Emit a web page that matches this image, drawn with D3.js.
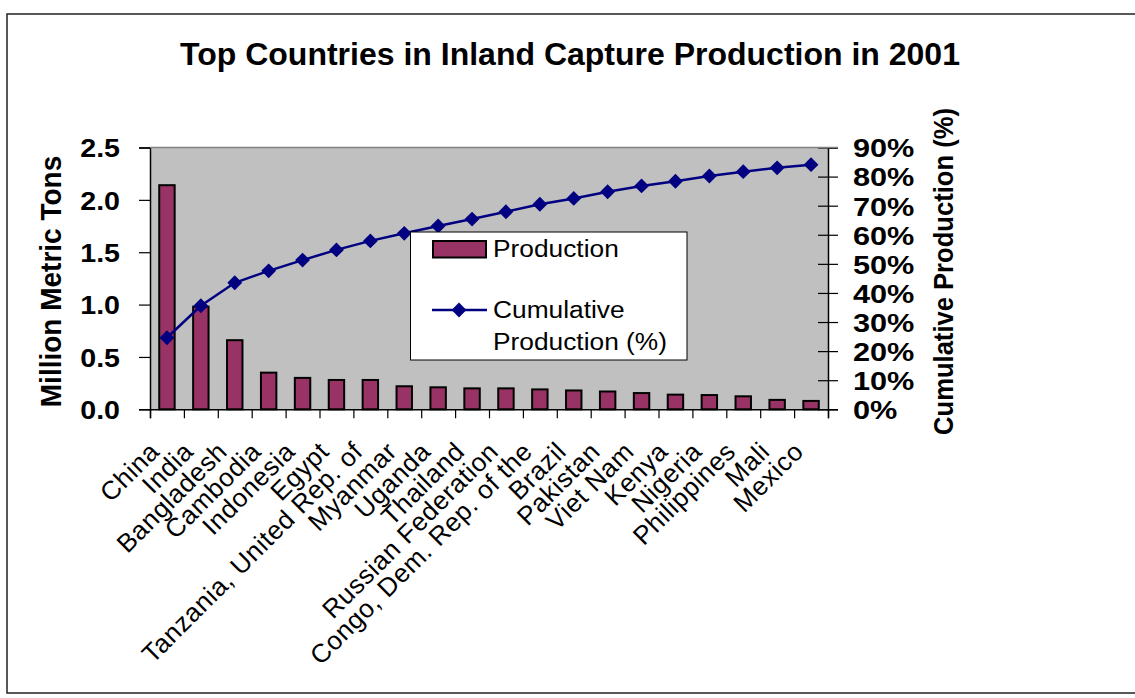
<!DOCTYPE html>
<html>
<head>
<meta charset="utf-8">
<script src="https://cdn.jsdelivr.net/npm/d3@7"></script>
<style>
  html, body { margin: 0; padding: 0; background: #fff; }
  svg { display: block; }
  text { font-family: "Liberation Sans", Arial, Helvetica, sans-serif; fill: #000; }
</style>
</head>
<body>
<svg id="chart" width="1135" height="698"></svg>
<script>
// ---- data ----
const categories = ["China","India","Bangladesh","Cambodia","Indonesia","Egypt",
  "Tanzania, United Rep. of","Myanmar","Uganda","Thailand","Russian Federation",
  "Congo, Dem. Rep. of the","Brazil","Pakistan","Viet Nam","Kenya","Nigeria",
  "Philippines","Mali","Mexico"];
const production = [2.14,0.98,0.66,0.35,0.30,0.28,0.28,0.22,0.21,0.20,0.20,0.19,
  0.18,0.17,0.155,0.14,0.136,0.124,0.09,0.08];
const cumulative = [24.6,35.6,43.5,47.6,51.3,54.8,57.9,60.5,63.0,65.4,67.9,70.5,
  72.5,74.8,76.8,78.4,80.2,81.7,83.0,84.1];
const leftTicks = [0,0.5,1.0,1.5,2.0,2.5];
const rightTicks = [0,0.1,0.2,0.3,0.4,0.5,0.6,0.7,0.8,0.9];
const titleText = "Top Countries in Inland Capture Production in 2001";
const leftTitle = "Million Metric Tons";
const rightTitle = "Cumulative Production (%)";
const legendLabels = ["Production", ["Cumulative", "Production (%)"]];

// ---- layout ----
const svg = d3.select("#chart");
const plot = {left: 150, right: 828, top: 147.5, bottom: 409.3};
const barColor = "#993366", lineColor = "#000080";

const x = d3.scaleBand().domain(categories).range([plot.left, plot.right]).padding(0);
const xIdx = d3.scaleLinear().domain([0, categories.length]).range([plot.left, plot.right]);
const yL = d3.scaleLinear().domain([0, 2.5]).range([plot.bottom, plot.top]);
const yR = d3.scaleLinear().domain([0, 0.9]).range([plot.bottom, plot.top]);

// outer border
svg.append("rect").attr("x", 7).attr("y", 14).attr("width", 1140).attr("height", 679)
  .attr("fill", "#fff").attr("stroke", "#222").attr("stroke-width", 1.5);

// title
svg.append("text").attr("x", 570).attr("y", 65).attr("text-anchor", "middle")
  .attr("font-size", 32).attr("font-weight", "bold").text(titleText);

// plot background
svg.append("rect").attr("x", plot.left).attr("y", plot.top)
  .attr("width", plot.right - plot.left).attr("height", plot.bottom - plot.top)
  .attr("fill", "#c0c0c0");

// bars
const barW = x.bandwidth() * 0.455;
svg.append("g").selectAll("rect").data(production).join("rect")
  .attr("x", (d, i) => x(categories[i]) + x.bandwidth() / 2 - barW / 2)
  .attr("y", d => yL(d))
  .attr("width", barW)
  .attr("height", d => plot.bottom - yL(d))
  .attr("fill", barColor).attr("stroke", "#000").attr("stroke-width", 2);

// axes
const sxL = 1.1;
const gL = svg.append("g").attr("transform", `translate(${plot.left},0)`)
  .call(d3.axisLeft(yL).tickValues(leftTicks).tickFormat(d3.format(".1f")).tickSize(11).tickPadding(0));
gL.select(".domain").attr("stroke", "#000").attr("stroke-width", 1.5);
gL.selectAll(".tick line").attr("stroke", "#000").attr("stroke-width", 1.2);
gL.selectAll(".tick text").attr("font-size", 26).attr("font-weight", "bold")
  .attr("font-family", "Liberation Sans, Arial, sans-serif")
  .attr("x", -30 / sxL).attr("dy", "0.36em").attr("transform", `scale(${sxL},1)`);

const sxR = 1.18;
const gR = svg.append("g").attr("transform", `translate(${plot.right},0)`)
  .call(d3.axisRight(yR).tickValues(rightTicks).tickFormat(d3.format(".0%")).tickSize(10).tickPadding(0));
gR.select(".domain").attr("stroke", "#000").attr("stroke-width", 1.5);
gR.selectAll(".tick line").attr("x1", -10).attr("stroke", "#000").attr("stroke-width", 1.2);
gR.selectAll(".tick text").attr("font-size", 26).attr("font-weight", "bold")
  .attr("font-family", "Liberation Sans, Arial, sans-serif")
  .attr("x", 25 / sxR).attr("dy", "0.36em").attr("transform", `scale(${sxR},1)`);

const gB = svg.append("g").attr("transform", `translate(0,${plot.bottom})`)
  .call(d3.axisBottom(xIdx).tickValues(d3.range(categories.length + 1)).tickFormat("").tickSize(9));
gB.select(".domain").attr("stroke", "#000").attr("stroke-width", 1.5);
gB.selectAll(".tick line").attr("stroke", "#000").attr("stroke-width", 1.2);

// top plot border (grey)
svg.append("line").attr("x1", plot.left).attr("x2", plot.right + 10)
  .attr("y1", plot.top).attr("y2", plot.top).attr("stroke", "#808080").attr("stroke-width", 1.5);

// cumulative line
const cx = (d, i) => x(categories[i]) + x.bandwidth() / 2;
const line = d3.line().x((d, i) => cx(d, i)).y(d => yR(d / 100));
svg.append("path").datum(cumulative).attr("d", line)
  .attr("fill", "none").attr("stroke", lineColor).attr("stroke-width", 2.5);
const diamond = d3.symbol().type(d3.symbolSquare).size(110);
svg.append("g").selectAll("path").data(cumulative).join("path")
  .attr("d", diamond)
  .attr("transform", (d, i) => `translate(${cx(d, i)},${yR(d / 100)}) rotate(45)`)
  .attr("fill", lineColor);

// category labels
svg.append("g").selectAll("text").data(categories).join("text")
  .attr("transform", d => `translate(${x(d) + x.bandwidth() / 2 - 6},453) rotate(-45)`)
  .attr("text-anchor", "end").attr("font-size", 26).attr("letter-spacing", 0.6).text(d => d);

// axis titles
svg.append("text").attr("transform", "translate(61,281.5) scale(1.06,1) rotate(-90)")
  .attr("text-anchor", "middle").attr("font-size", 28).attr("font-weight", "bold").text(leftTitle);
svg.append("text").attr("transform", "translate(953,271.5) scale(1.08,1) rotate(-90)")
  .attr("text-anchor", "middle").attr("font-size", 25.6).attr("font-weight", "bold").text(rightTitle);

// legend
const lg = svg.append("g");
lg.append("rect").attr("x", 410.5).attr("y", 232).attr("width", 276.5).attr("height", 128)
  .attr("fill", "#fff").attr("stroke", "#000").attr("stroke-width", 1);
lg.append("rect").attr("x", 433).attr("y", 241).attr("width", 53).attr("height", 16.5)
  .attr("fill", barColor).attr("stroke", "#000").attr("stroke-width", 2);
lg.append("line").attr("x1", 432).attr("x2", 487).attr("y1", 310).attr("y2", 310)
  .attr("stroke", lineColor).attr("stroke-width", 2.5);
lg.append("path").attr("d", diamond).attr("transform", "translate(459,310) rotate(45)").attr("fill", lineColor);
const sxLg = 1.12;
lg.append("text").attr("transform", `translate(493,257) scale(${sxLg},1)`).attr("font-size", 23.5).text(legendLabels[0]);
lg.append("text").attr("transform", `translate(493,318) scale(${sxLg},1)`).attr("font-size", 23.5).text(legendLabels[1][0]);
lg.append("text").attr("transform", `translate(493,350) scale(${sxLg},1)`).attr("font-size", 23.5).text(legendLabels[1][1]);
</script>
</body>
</html>
